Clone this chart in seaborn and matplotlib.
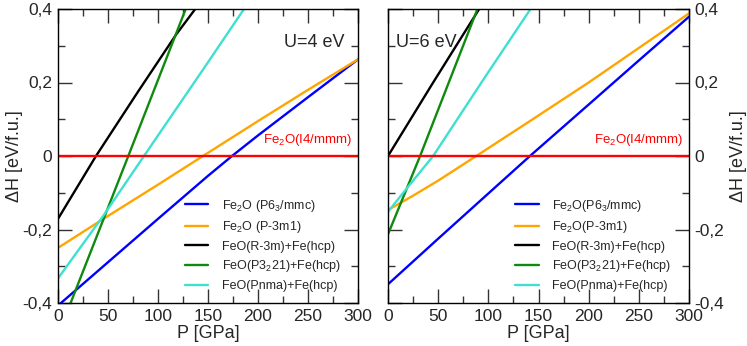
import numpy as np
import seaborn as sns
import matplotlib.pyplot as plt
from matplotlib.ticker import MultipleLocator, FuncFormatter

# ================================
# Data
# ================================
# U = 4 eV
p4_p63 = [0, 50, 100, 150, 174, 200, 250, 300]
h4_p63 = [-0.407, -0.289, -0.171, -0.054, 0.0, 0.056, 0.160, 0.263]
p4_p3m1 = [0, 46, 100, 145, 200, 250, 300]
h4_p3m1 = [-0.250, -0.170, -0.078, 0.0, 0.095, 0.180, 0.263]
p4_r3m = [0, 38, 80, 118, 140]
h4_r3m = [-0.171, 0.0, 0.175, 0.330, 0.410]
p4_p3221 = [10, 70.3, 130]
h4_p3221 = [-0.418, 0.0, 0.416]
p4_pnma = [0, 46, 86, 147, 190]
h4_pnma = [-0.333, -0.160, 0.0, 0.243, 0.416]

# U = 6 eV
p6_p63 = [0, 50, 100, 141.5, 200, 250, 300]
h6_p63 = [-0.349, -0.225, -0.102, 0.0, 0.140, 0.260, 0.379]
p6_p3m1 = [0, 25, 50, 88, 142, 200, 250, 300]
h6_p3m1 = [-0.147, -0.108, -0.067, 0.0, 0.096, 0.200, 0.294, 0.388]
p6_r3m = [0, 45, 95]
h6_r3m = [0.0, 0.200, 0.418]
p6_p3221 = [0, 32, 92]
h6_p3221 = [-0.213, 0.0, 0.420]
p6_pnma = [0, 14, 45, 97, 145]
h6_pnma = [-0.152, -0.104, 0.0, 0.216, 0.412]

# reference phase Fe2O(I4/mmm)
p_ref = [0, 300]
h_ref = [0.0, 0.0]

labels4 = ["Fe$_2$O (P6$_3$/mmc)", "Fe$_2$O (P-3m1)", "FeO(R-3m)+Fe(hcp)",
           "FeO(P3$_2$21)+Fe(hcp)", "FeO(Pnma)+Fe(hcp)"]
labels6 = ["Fe$_2$O(P6$_3$/mmc)", "Fe$_2$O(P-3m1)", "FeO(R-3m)+Fe(hcp)",
           "FeO(P3$_2$21)+Fe(hcp)", "FeO(Pnma)+Fe(hcp)"]
colors = ["#0000ff", "#ffa500", "#000000", "#0f8a0f", "#40e0d0"]

# ================================
# Style
# ================================
sns.set_style("ticks")
plt.rcParams['font.family'] = ['Liberation Sans', 'DejaVu Sans']
plt.rcParams['mathtext.fontset'] = 'custom'
plt.rcParams['mathtext.rm'] = 'Liberation Sans'
plt.rcParams['mathtext.it'] = 'Liberation Sans'
plt.rcParams['axes.unicode_minus'] = False

fig = plt.figure(figsize=(7.47, 3.46), dpi=100)
ax1 = fig.add_axes([58 / 747, 43 / 346, 300 / 747, 294 / 346])
ax2 = fig.add_axes([388 / 747, 43 / 346, 301 / 747, 294 / 346])


def fmt(v, pos):
    if abs(v) < 1e-9:
        return "0"
    return f"{v:.1f}".replace(".", ",")


def draw(ax, series, labels, tag, tag_x, tag_ha):
    for (p, h), lab, c in zip(series, labels, colors):
        sns.lineplot(x=p, y=h, ax=ax, color=c, lw=1.7, label=lab,
                     sort=False, estimator=None)
    sns.lineplot(x=p_ref, y=h_ref, ax=ax, color="#ff0000", lw=1.7,
                 sort=False, estimator=None)
    ax.set_xlim(0, 300)
    ax.set_ylim(-0.4, 0.4)
    ax.xaxis.set_major_locator(MultipleLocator(50))
    ax.xaxis.set_minor_locator(MultipleLocator(25))
    ax.yaxis.set_major_locator(MultipleLocator(0.2))
    ax.yaxis.set_minor_locator(MultipleLocator(0.1))
    ax.yaxis.set_major_formatter(FuncFormatter(fmt))
    ax.tick_params(which="both", direction="in", top=True, bottom=True,
                   left=True, right=True, color="#333333", width=1)
    ax.tick_params(which="major", length=10, labelsize=12.5, pad=4)
    ax.tick_params(which="minor", length=5)
    for s in ax.spines.values():
        s.set_linewidth(1)
        s.set_color("black")
    ax.set_xlabel("P [GPa]", fontsize=13, labelpad=1)
    ax.text(tag_x, 0.31, tag, fontsize=13, ha=tag_ha, va="center")
    ax.text(0.98, 0.022, "Fe$_2$O(I4/mmm)", color="#ff0000", fontsize=9.5,
            ha="right", va="bottom", transform=ax.get_yaxis_transform())
    ax.legend(frameon=False, loc="lower left", bbox_to_anchor=(0.405, 0.02),
              fontsize=9, handlelength=1.9, handletextpad=1.1,
              labelspacing=0.45, borderaxespad=0)


draw(ax1, [(p4_p63, h4_p63), (p4_p3m1, h4_p3m1), (p4_r3m, h4_r3m),
           (p4_p3221, h4_p3221), (p4_pnma, h4_pnma)],
     labels4, "U=4 eV", 287, "right")
ax1.set_ylabel("ΔH [eV/f.u.]", fontsize=13, labelpad=0)

draw(ax2, [(p6_p63, h6_p63), (p6_p3m1, h6_p3m1), (p6_r3m, h6_r3m),
           (p6_p3221, h6_p3221), (p6_pnma, h6_pnma)],
     labels6, "U=6 eV", 8, "left")
ax2.yaxis.set_label_position("right")
ax2.yaxis.tick_right()
ax2.tick_params(which="both", left=True, right=True)
ax2.set_ylabel("ΔH [eV/f.u.]", fontsize=13, labelpad=4)

plt.savefig("out.png", dpi=100)
plt.close()
